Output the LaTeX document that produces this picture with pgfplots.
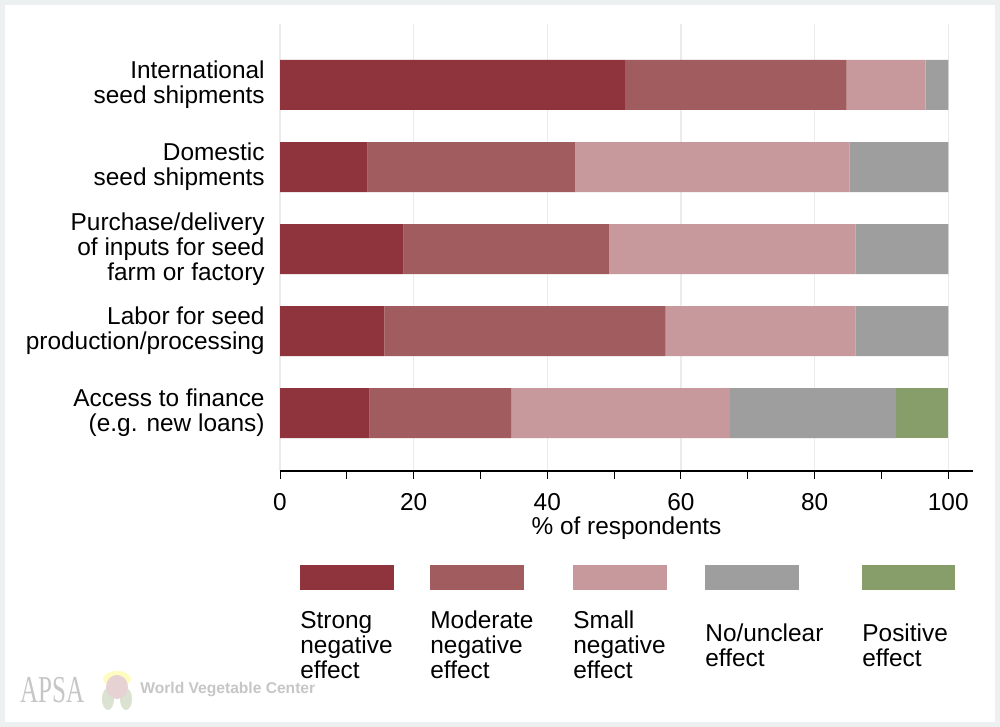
\documentclass[border=0pt]{standalone}
\usepackage{pgfplots}
\pgfplotsset{compat=1.18}
\usepackage{fontspec}
\setmainfont{Liberation Sans}
\definecolor{cstrong}{HTML}{8F343D}
\definecolor{cmod}{HTML}{A15C5F}
\definecolor{csmall}{HTML}{C7999D}
\definecolor{cnone}{HTML}{9E9E9E}
\definecolor{cpos}{HTML}{879E6A}
\definecolor{cgrid}{HTML}{EBEBEB}
\definecolor{cframe}{HTML}{EDF0F0}
\definecolor{cwm}{HTML}{C6C6C6}
\begin{document}
\begin{tikzpicture}[x=1pt,y=1pt]
\fill[cframe] (0,0) rectangle (500,363.5);
\fill[white] (2.5,2.5) rectangle (497.5,361);
\path[use as bounding box] (0,0) rectangle (500,363.5);
\begin{axis}[
  at={(140pt,128pt)}, anchor=south west,
  scale only axis, width=346.5pt, height=223.5pt,
  xbar stacked, bar width=25pt,
  xmin=0, xmax=103.7, ymin=-0.707, ymax=4.744,
  axis x line*=bottom, axis y line*=left,
  y axis line style={draw=none},
  x axis line style={black, line width=0.6pt, -},
  xtick={0,20,40,60,80,100}, minor xtick={10,30,50,70,90},
  tick align=outside, major tick length=4pt, minor tick length=4pt,
  xtick style={black, line width=0.5pt},
  minor tick style={black, line width=0.5pt},
  ytick={0,1,2,3,4}, ytick style={draw=none},
  yticklabels={{Access to finance\\(e.g. new loans)},{Labor for seed\\production/processing},{Purchase/delivery\\of inputs for seed\\farm or factory},{Domestic\\seed shipments},{International\\seed shipments}},
  yticklabel style={align=right, font=\fontsize{12.2}{12.6}\selectfont, inner xsep=0pt, xshift=-3.5pt},
  xticklabel style={font=\fontsize{12.2}{12}\selectfont, yshift=-3.5pt},
  /pgf/number format/assume math mode=true,
  xmajorgrids, grid style={cgrid, line width=0.6pt},
  xlabel={\% of respondents},
  xlabel style={font=\fontsize{12.2}{12}\selectfont, yshift=3.5pt},
  every axis plot/.append style={draw=none},
]
\addplot[fill=cstrong] coordinates {(13.4,0) (15.6,1) (18.5,2) (13.1,3) (51.6,4)};
\addplot[fill=cmod] coordinates {(21.2,0) (42.1,1) (30.7,2) (31.1,3) (33.2,4)};
\addplot[fill=csmall] coordinates {(32.7,0) (28.4,1) (36.9,2) (41.0,3) (11.8,4)};
\addplot[fill=cnone] coordinates {(24.9,0) (13.9,1) (13.9,2) (14.8,3) (3.4,4)};
\addplot[fill=cpos] coordinates {(7.8,0) (0,1) (0,2) (0,3) (0,4)};
\end{axis}
% legend
\begin{scope}[font=\fontsize{12.2}{12.5}\selectfont]
\fill[cstrong] (150,68.5) rectangle (197,81);
\fill[cmod] (215,68.5) rectangle (262,81);
\fill[csmall] (286.5,68.5) rectangle (333.5,81);
\fill[cnone] (352.5,68.5) rectangle (399.5,81);
\fill[cpos] (431,68.5) rectangle (477.5,81);
\node[anchor=west, align=left, inner sep=0pt] at (150,41) {Strong\\negative\\effect};
\node[anchor=west, align=left, inner sep=0pt] at (215,41) {Moderate\\negative\\effect};
\node[anchor=west, align=left, inner sep=0pt] at (286.5,41) {Small\\negative\\effect};
\node[anchor=west, align=left, inner sep=0pt] at (352.5,41) {No/unclear\\effect};
\node[anchor=west, align=left, inner sep=0pt] at (431,41) {Positive\\effect};
\end{scope}
% watermark
\node[anchor=west, inner sep=0pt, text=cwm, xscale=0.66, font=\fontsize{19}{19}\selectfont] at (10,18.5) {\setmainfont{Liberation Serif}APSA};
\fill[cpos!30] (54,14) ellipse (3pt and 5.5pt);
\fill[cpos!30] (63,14) ellipse (3pt and 5.5pt);
\fill[yellow!25] (58.5,24) ellipse (7pt and 4pt);
\fill[csmall!45] (58.5,20) ellipse (5.5pt and 6pt);
\node[anchor=west, inner sep=0pt, text=cwm, font=\bfseries\fontsize{7.8}{8}\selectfont] at (70,18.5) {World Vegetable Center};
\end{tikzpicture}
\end{document}
